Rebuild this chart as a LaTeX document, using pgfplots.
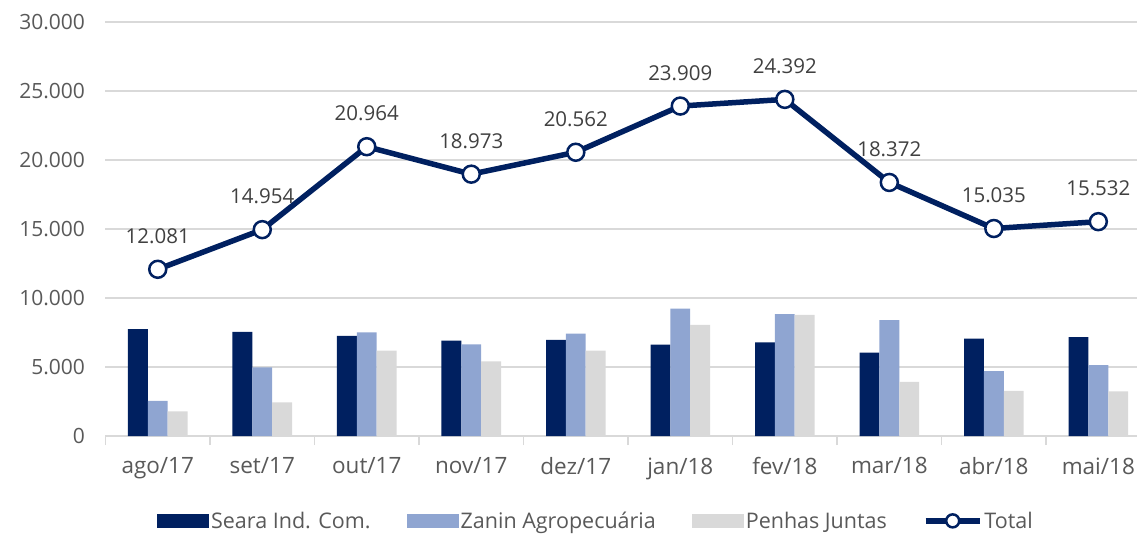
\documentclass[border=0pt]{standalone}
\usepackage{pgfplots}
\pgfplotsset{compat=1.18}
\usepackage{fontspec}
\setmainfont{Open Sans}
\definecolor{navy}{RGB}{0,32,96}
\definecolor{zanin}{RGB}{143,165,209}
\definecolor{penhas}{RGB}{217,217,217}
\definecolor{txt}{RGB}{89,89,89}
\definecolor{lbl}{RGB}{64,64,64}
\definecolor{gridc}{RGB}{217,217,217}
\begin{document}
\begin{tikzpicture}
\begin{axis}[
  name=ax,
  scale only axis,
  width=1031.5pt, height=414pt,
  xmin=-0.5, xmax=9.37,
  ymin=0, ymax=30000,
  axis lines*=left,
  y axis line style={draw=none},
  x axis line style={draw=gridc, line width=1.5pt},
  ytick={0,5000,...,30000},
  ymajorgrids,
  grid style={draw=gridc, line width=1.5pt},
  ytick style={draw=none},
  xtick={0,...,9},
  xticklabels={ago/17,set/17,out/17,nov/17,dez/17,jan/18,fev/18,mar/18,abr/18,mai/18},
  minor xtick={-0.5,0.5,...,9.5},
  tick align=outside,
  major tick length=0pt,
  minor tick length=9pt,
  x tick style={draw=gridc, line width=1.5pt},
  scaled y ticks=false,
  /pgf/number format/assume math mode=true,
  /pgf/number format/set thousands separator={.},
  yticklabel style={font=\fontsize{21}{25}\selectfont, text=txt, xshift=-17pt},
  xticklabel style={font=\fontsize{22.5}{27}\selectfont, text=txt, yshift=-18pt},
  clip=false,
  legend style={draw=none, fill=none, font=\fontsize{21.5}{26}\selectfont, text=txt,
    at={(0.4755,-0.205)}, anchor=center, legend columns=4,
    /tikz/every even column/.append style={column sep=34pt},
    legend cell align=left},
]
\addplot[ybar, bar width=0.19, bar shift=-0.19, fill=navy, draw=none,
  legend image code/.code={\path[fill=navy] (0pt,-7pt) rectangle (52pt,7pt);}]
  coordinates {(0,7750) (1,7550) (2,7260) (3,6920) (4,6960) (5,6630) (6,6790) (7,6040) (8,7050) (9,7170)};
\addlegendentry{Seara Ind. Com.}
\addplot[ybar, bar width=0.19, bar shift=0, fill=zanin, draw=none,
  legend image code/.code={\path[fill=zanin] (0pt,-7pt) rectangle (52pt,7pt);}]
  coordinates {(0,2550) (1,4970) (2,7510) (3,6640) (4,7420) (5,9230) (6,8830) (7,8400) (8,4710) (9,5130)};
\addlegendentry{Zanin Agropecuária}
\addplot[ybar, bar width=0.19, bar shift=0.19, fill=penhas, draw=none,
  legend image code/.code={\path[fill=penhas] (0pt,-7pt) rectangle (52pt,7pt);}]
  coordinates {(0,1780) (1,2430) (2,6190) (3,5410) (4,6180) (5,8050) (6,8770) (7,3930) (8,3270) (9,3230)};
\addlegendentry{Penhas Juntas}
\addplot[sharp plot, draw=navy, line width=5.5pt, mark=*, mark size=8.5pt,
  mark options={fill=white, draw=navy, line width=2.5pt},
  point meta=y,
  nodes near coords,
  every node near coord/.append style={font=\fontsize{20.5}{24}\selectfont, text=lbl, yshift=21pt,
     /pgf/number format/.cd, fixed, precision=0, set thousands separator={.}, assume math mode=true},
  legend image code/.code={
    \draw[navy, line width=5.5pt] (0pt,0pt) -- (54pt,0pt);
    \draw[navy, line width=2.5pt, fill=white] (27pt,0pt) circle (6.5pt);}]
  coordinates {(0,12081) (1,14954) (2,20964) (3,18973) (4,20562) (5,23909) (6,24392) (7,18372) (8,15035) (9,15532)};
\addlegendentry{Total}
\end{axis}
\pgfresetboundingbox
\useasboundingbox ([xshift=-105.5pt,yshift=-98pt]ax.south west) rectangle ([yshift=22pt]ax.north east);
\end{tikzpicture}
\end{document}
